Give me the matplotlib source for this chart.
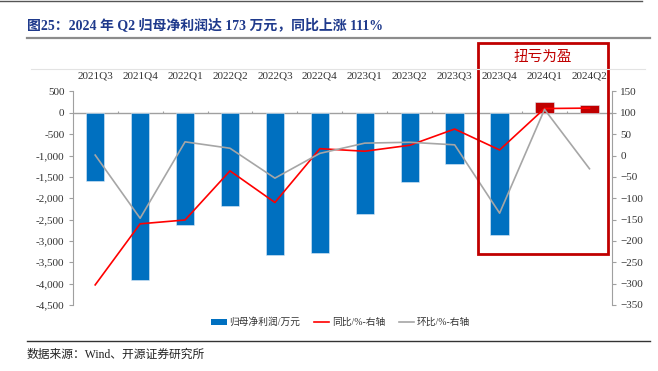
import matplotlib
matplotlib.use("Agg")
import matplotlib.pyplot as plt
import numpy as np
from matplotlib.patches import Rectangle
from matplotlib.lines import Line2D
from matplotlib.ticker import FuncFormatter, MultipleLocator

plt.rcParams["font.family"] = ["Liberation Serif", "Noto Sans CJK SC", "DejaVu Sans"]

# ---------------------------------------------------------------------------
# Data
# ---------------------------------------------------------------------------
quarters = ["2021Q3", "2021Q4", "2022Q1", "2022Q2", "2022Q3", "2022Q4",
            "2023Q1", "2023Q2", "2023Q3", "2023Q4", "2024Q1", "2024Q2"]
net_profit = [-1590, -3910, -2625, -2180, -3335, -3290,
              -2370, -1620, -1205, -2855, 245, 173]          # 万元
yoy = [-303, -160, -151, -36, -110, 16, 10, 24, 62, 13, 110, 111]   # %
qoq = [1, -147, 32, 17, -53, 5, 29, 31, 25, -135, 108, -31]          # %

BLUE = "#0070C0"
DARK_RED = "#C00000"
RED = "#FF0000"
GREY = "#A6A6A6"
AXIS_GREY = "#A0A0A0"
TEXT = "#333333"

fig = plt.figure(figsize=(6.58, 3.71), dpi=100)

# ── header / footer decoration ─────────────────────────────────────────────
fig.add_artist(Line2D([0.0, 0.975], [0.996, 0.996], color="#555555", lw=1.0))
fig.text(0.041, 0.933,
         "图25：2024 年 Q2 归母净利润达 173 万元，同比上涨 111%",
         ha="left", va="center", fontsize=10, fontweight="bold", color="#1F3A8C")
fig.add_artist(Line2D([0.041, 0.988], [0.897, 0.897], color="#8C8C8C", lw=1.6))
fig.add_artist(Line2D([0.047, 0.98], [0.814, 0.814], color="#E3E3E3", lw=0.8))
fig.add_artist(Line2D([0.041, 0.988], [0.081, 0.081], color="#333333", lw=1.0))
fig.text(0.041, 0.043, "数据来源：Wind、开源证券研究所",
         ha="left", va="center", fontsize=8.5, color="#222222")

# ── main axes ──────────────────────────────────────────────────────────────
ax = fig.add_axes([0.1105, 0.178, 0.8195, 0.5755])
x = np.arange(len(quarters))
bar_colors = [DARK_RED if v > 0 else BLUE for v in net_profit]
ax.bar(x, net_profit, width=0.41, color=bar_colors, edgecolor="#DDEBF7",
       linewidth=0.4, zorder=2)

ax.set_xlim(-0.5, len(quarters) - 0.5)
ax.set_ylim(-4500, 500)
ax.yaxis.set_major_locator(MultipleLocator(500))
ax.yaxis.set_major_formatter(FuncFormatter(lambda v, p: f"{v:,.0f}"))
ax.axhline(0, color=AXIS_GREY, lw=1.0, zorder=1)
# small category-boundary ticks on the zero line
ax.vlines(x[:-1] + 0.5, 0, 45, color=AXIS_GREY, lw=0.8, zorder=1)

ax.xaxis.tick_top()
ax.set_xticks(x)
ax.set_xticklabels(quarters, fontsize=8, color=TEXT)
ax.tick_params(axis="x", length=0, pad=8)
ax.tick_params(axis="y", labelsize=8, colors=TEXT, length=3, width=0.8,
               color=AXIS_GREY, pad=3)
for side in ("top", "bottom", "right"):
    ax.spines[side].set_visible(False)
ax.spines["left"].set_color(AXIS_GREY)

# ── secondary axis (%) ─────────────────────────────────────────────────────
ax2 = ax.twinx()
ax2.plot(x, yoy, color=RED, lw=1.2, zorder=3)
ax2.plot(x, qoq, color=GREY, lw=1.2, zorder=3)
ax2.set_ylim(-350, 150)
ax2.yaxis.set_major_locator(MultipleLocator(50))
ax2.tick_params(axis="y", labelsize=8, colors=TEXT, length=3, width=0.8,
                color=AXIS_GREY, pad=3)
for side in ("top", "bottom", "left"):
    ax2.spines[side].set_visible(False)
ax2.spines["right"].set_color(AXIS_GREY)

# ── highlight box ──────────────────────────────────────────────────────────
fig.add_artist(Rectangle((0.7265, 0.315), 0.197, 0.569, transform=fig.transFigure,
                         fill=False, edgecolor=DARK_RED, lw=2.0))
fig.text(0.825, 0.845, "扭亏为盈", ha="center", va="center",
         fontsize=10.5, color=DARK_RED)

# ── legend ─────────────────────────────────────────────────────────────────
handles = [
    Rectangle((0, 0), 1, 1, facecolor=BLUE, edgecolor="none"),
    Line2D([], [], color=RED, lw=1.2),
    Line2D([], [], color=GREY, lw=1.2),
]
labels = ["归母净利润/万元", "同比/%-右轴", "环比/%-右轴"]
fig.legend(handles, labels, loc="center", bbox_to_anchor=(0.5175, 0.131), ncol=3,
           frameon=False, fontsize=7, handlelength=1.6, handleheight=0.5,
           handletextpad=0.25, columnspacing=1.4, labelcolor=TEXT)

fig.savefig("out.png", dpi=100)
